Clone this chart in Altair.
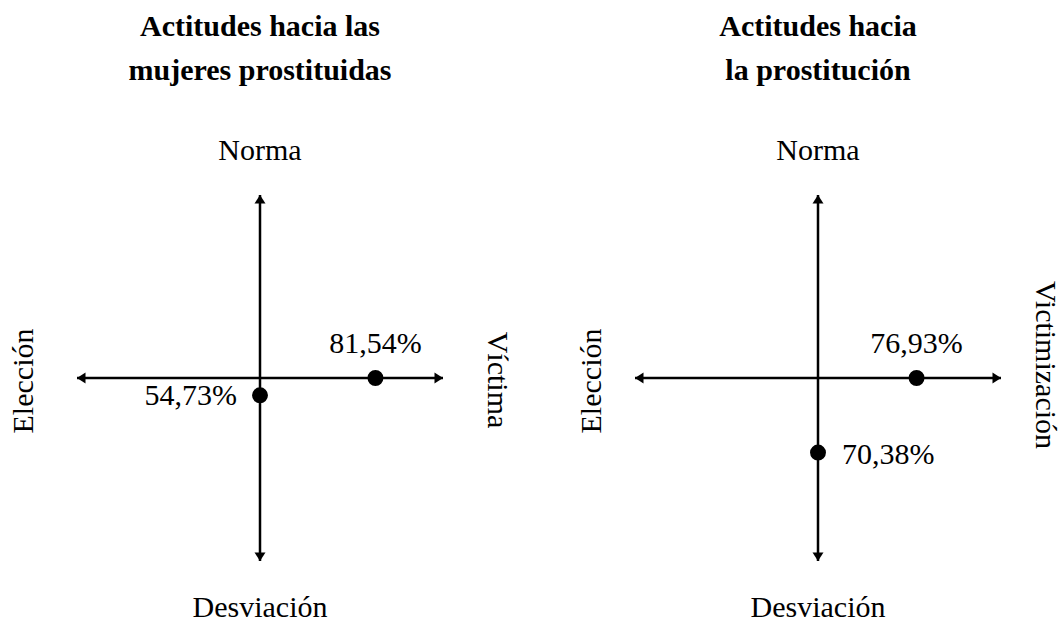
import altair as alt
import pandas as pd

# ---------------- data ----------------
panel_titles = [["Actitudes hacia las", "mujeres prostituidas"],
                ["Actitudes hacia", "la prostitución"]]
top_labels = ["Norma", "Norma"]
bottom_labels = ["Desviación", "Desviación"]
left_labels = ["Elección", "Elección"]
right_labels = ["Víctima", "Victimización"]
# horizontal axis: Elección (0) -> Víctima / Victimización (100)
horizontal_scores = [81.54, 76.93]
horizontal_texts = ["81,54%", "76,93%"]
# vertical axis: Norma (0) -> Desviación (100)
vertical_scores = [54.73, 70.38]
vertical_texts = ["54,73%", "70,38%"]

AXIS_MIN, AXIS_MAX, CENTER = 0, 100, 50

# ---------------- layout / style ----------------
FONT = "'Liberation Serif', 'Times New Roman', serif"
FS = 30
X_RANGES = [[77, 443], [635, 1001]]
Y_RANGE = [195, 561]
LEFT_DY = [-44, -34]
RIGHT_DY = [-45, -35]
RIGHT_DX = [2, -13]
VLABEL = [dict(align="right", dx=-23, dy=10), dict(align="left", dx=24, dy=11)]

ARROWS = {
    "up": "M0,0L0.55,0.85L-0.55,0.85Z",
    "down": "M0,0L0.55,-0.85L-0.55,-0.85Z",
    "left": "M0,0L0.85,-0.55L0.85,0.55Z",
    "right": "M0,0L-0.85,-0.55L-0.85,0.55Z",
}


def panel(i):
    xs = alt.Scale(domain=[AXIS_MIN, AXIS_MAX], range=X_RANGES[i], nice=False, zero=False)
    ys = alt.Scale(domain=[AXIS_MIN, AXIS_MAX], range=Y_RANGE, nice=False, zero=False)

    def X(f):
        return alt.X(f, type="quantitative", scale=xs, axis=None)

    def Y(f):
        return alt.Y(f, type="quantitative", scale=ys, axis=None)

    axes_df = pd.DataFrame({
        "x": [AXIS_MIN, CENTER], "x2": [AXIS_MAX, CENTER],
        "y": [CENTER, AXIS_MIN], "y2": [CENTER, AXIS_MAX],
    })
    rules = alt.Chart(axes_df).mark_rule(color="black", strokeWidth=2.5).encode(
        x=X("x"), x2=alt.X2("x2"), y=Y("y"), y2=alt.Y2("y2"))

    arrow_df = pd.DataFrame({
        "x": [CENTER, CENTER, AXIS_MIN, AXIS_MAX],
        "y": [AXIS_MIN, AXIS_MAX, CENTER, CENTER],
        "dir": ["up", "down", "left", "right"],
    })
    arrows = alt.Chart(arrow_df).mark_point(
        filled=True, size=400, color="black", opacity=1, strokeWidth=0).encode(
        x=X("x"), y=Y("y"),
        shape=alt.Shape("dir:N", scale=alt.Scale(domain=list(ARROWS.keys()),
                                                 range=list(ARROWS.values())), legend=None))

    pts_df = pd.DataFrame({
        "x": [horizontal_scores[i], CENTER],
        "y": [CENTER, vertical_scores[i]],
    })
    points = alt.Chart(pts_df).mark_point(
        shape="circle", filled=True, size=254, color="black", opacity=1, strokeWidth=0).encode(
        x=X("x"), y=Y("y"))

    h_df = pd.DataFrame({"x": [horizontal_scores[i]], "y": [CENTER], "t": [horizontal_texts[i]]})
    h_text = alt.Chart(h_df).mark_text(
        font=FONT, fontSize=FS, color="black", align="center", baseline="alphabetic", dy=-25
    ).encode(x=X("x"), y=Y("y"), text="t:N")

    v_df = pd.DataFrame({"x": [CENTER], "y": [vertical_scores[i]], "t": [vertical_texts[i]]})
    v_text = alt.Chart(v_df).mark_text(
        font=FONT, fontSize=FS, color="black", baseline="alphabetic", **VLABEL[i]
    ).encode(x=X("x"), y=Y("y"), text="t:N")

    def label(x, y, text, **kw):
        d = pd.DataFrame({"x": [x], "y": [y], "t": [text]})
        return alt.Chart(d).mark_text(font=FONT, fontSize=FS, color="black", **kw).encode(
            x=X("x"), y=Y("y"), text="t:N")

    top = label(CENTER, AXIS_MIN, top_labels[i], align="center", baseline="alphabetic", dy=-35)
    bottom = label(CENTER, AXIS_MAX, bottom_labels[i], align="center", baseline="alphabetic", dy=56)
    left = label(AXIS_MIN, CENTER, left_labels[i], align="center", baseline="alphabetic",
                 angle=270, dy=LEFT_DY[i], dx=-3)
    right = label(AXIS_MAX, CENTER, right_labels[i], align="center", baseline="alphabetic",
                  angle=90, dy=RIGHT_DY[i], dx=RIGHT_DX[i])

    title_df = pd.DataFrame({"x": [CENTER], "y": [AXIS_MIN]})
    title = alt.Chart(title_df).mark_text(
        text=panel_titles[i], font=FONT, fontSize=FS, fontWeight="bold", color="black",
        align="center", baseline="alphabetic", lineHeight=44, dy=-159
    ).encode(x=X("x"), y=Y("y"))

    return alt.layer(rules, arrows, points, h_text, v_text, top, bottom, left, right, title)


chart = alt.layer(panel(0), panel(1)).resolve_scale(
    x="independent", y="independent", shape="independent"
).properties(
    width=1062, height=623,
    autosize=alt.AutoSizeParams(type="none"),
    padding=0,
    background="white",
).configure_view(stroke=None)

chart.save("out.html", embed_options={"renderer": "svg", "actions": False})
